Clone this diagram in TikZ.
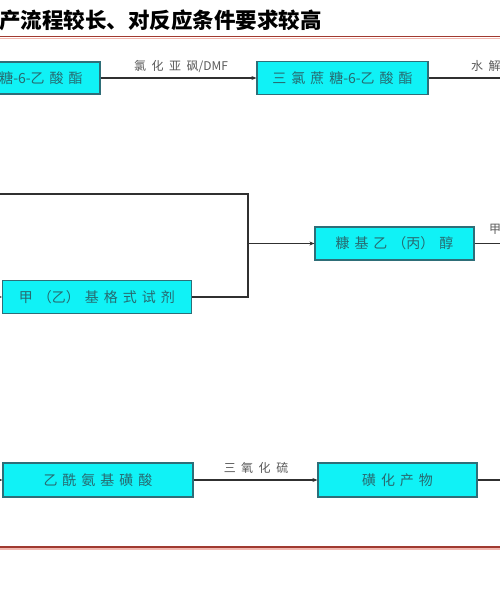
\documentclass[tikz,border=0pt]{standalone}
\usepackage{fontspec}
\setmainfont{Noto Sans CJK SC}
\newfontfamily\boxfont{Noto Sans CJK SC}
\newfontfamily\lblfont{Noto Sans CJK SC}
\newfontfamily\ttlfont{Noto Sans CJK SC}
\usetikzlibrary{arrows.meta}
\newcommand\gp{\hspace{5pt}}
\newcommand\lgp{\hspace{5.5pt}}
\definecolor{boxfill}{HTML}{10F2F6}
\definecolor{boxline}{HTML}{2E6E78}
\definecolor{boxtext}{HTML}{276A70}
\definecolor{linec}{HTML}{303030}
\definecolor{lblc}{HTML}{5A5A5A}
\definecolor{redl}{HTML}{A03A30}
\definecolor{pinkl}{HTML}{F2B8B0}
\tikzset{
  box/.style={draw=boxline, fill=boxfill, line width=1.2pt, minimum height=33pt, inner sep=0pt,
    font=\boxfont\fontsize{14}{14}\selectfont, text=boxtext},
  conn/.style={draw=linec, line width=1.4pt},
  arr/.style={conn, -{Stealth[length=5pt,width=4pt]}},
  lbl/.style={font=\lblfont\fontsize{12}{12}\selectfont, text=lblc, inner sep=0pt},
  redline/.style={draw=redl, line width=1.6pt},
  pinkline/.style={draw=pinkl, line width=1.6pt}
}
\begin{document}
\begin{tikzpicture}[x=1pt,y=-1pt]
\useasboundingbox (0,0) rectangle (500,600);
\fill[white] (0,0) rectangle (500,600);
% title
\node[anchor=west, inner sep=0pt, font=\ttlfont\bfseries\fontsize{21.5}{21.5}\selectfont] (title) at (-1,20) {产流程较长、对反应条件要求较高};
\coordinate (r1a) at (0,36.5);
\coordinate (r1b) at (500,36.5);
\coordinate (p1a) at (0,38.5);
\coordinate (p1b) at (500,38.5);
\draw[pinkline] (p1a) -- (p1b);
\draw[redline] (r1a) -- (r1b);
% boxes
\node[box, minimum width=114pt, minimum height=32pt] (b1) at (43,78) {\hspace*{-4pt}糖-6-乙\gp 酸\gp 酯};
\node[box, minimum width=171pt] (b2) at (342.5,78) {三\gp 氯\gp 蔗\gp 糖-6-乙\gp 酸\gp 酯};
\node[box, minimum width=189pt] (b3) at (97,297) {甲\gp （乙）\gp 基\gp 格\gp 式\gp 试\gp 剂};
\node[box, minimum width=159pt] (b4) at (394.5,243.5) {糠\gp 基\gp 乙\gp （丙）\gp 醇};
\node[box, minimum width=190pt, minimum height=34pt] (b5) at (98,480) {乙\gp 酰\gp 氨\gp 基\gp 磺\gp 酸};
\node[box, minimum width=159pt, minimum height=34pt] (b6) at (397.5,480) {磺\gp 化\gp 产\gp 物};
% labels
\node[lbl] (l1) at (181,67) {氯\lgp 化\lgp 亚\lgp 砜/DMF};
\node[lbl, anchor=west] (l2) at (471,66) {水\lgp 解};
\node[lbl, anchor=west] (l3) at (489,229) {甲};
\node[lbl] (l4) at (256,468) {三\lgp 氧\lgp 化\lgp 硫};
% connectors
\coordinate (o2) at (505,78);
\coordinate (inL) at (-5,194);
\coordinate (jt) at (248,194);
\coordinate (jb) at (248,297);
\coordinate (j) at (248,243.5);
\coordinate (in3) at (-5,297);
\coordinate (o4) at (505,243.5);
\coordinate (in5) at (-5,480);
\coordinate (o6) at (505,480);
\draw[arr] (b1) -- (b2);
\draw[conn] (b2) -- (o2);
\draw[conn] (inL) -- (jt) -- (jb) -- (b3.east);
\draw[arr] (j) -- (b4.west);
\draw[arr] (in3) -- (b3.west);
\draw[conn] (b4.east) -- (o4);
\draw[arr] (in5) -- (b5.west);
\draw[arr] (b5) -- (b6);
\draw[conn] (b6) -- (o6);
% bottom rule
\coordinate (r2a) at (0,547);
\coordinate (r2b) at (500,547);
\coordinate (p2a) at (0,549);
\coordinate (p2b) at (500,549);
\draw[pinkline] (p2a) -- (p2b);
\draw[redline] (r2a) -- (r2b);
\end{tikzpicture}
\end{document}
